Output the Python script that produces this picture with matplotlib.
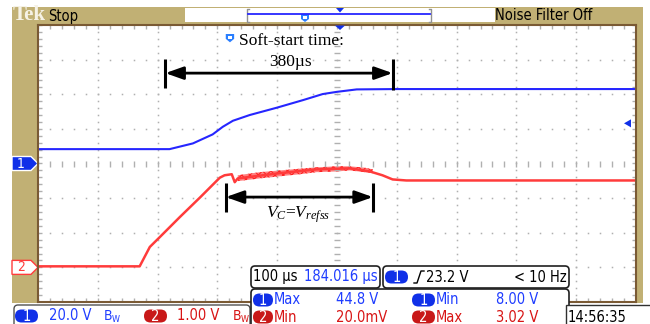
import numpy as np
import matplotlib.pyplot as plt
from matplotlib import font_manager
from matplotlib.font_manager import FontProperties
from matplotlib.patches import Rectangle, FancyBboxPatch, Polygon

# time in us (100 us/div, 10 div on screen)
ch1_t = [0, 220, 259, 292, 309, 326, 354, 399, 443, 476, 500, 533, 600, 1000]
ch1_v = [8.3, 8.3, 11.6, 16.8, 21.2, 24.7, 28.0, 32.2, 36.6, 40.1, 41.4, 42.8, 43.0, 43.0]

ch2_t = [0, 170, 187, 204, 237, 271, 304, 312, 324, 329, 334, 404, 466, 521, 555, 576, 593, 616, 1000]
ch2_v = [0.03, 0.03, 0.59, 0.88, 1.45, 2.02, 2.59, 2.66, 2.69, 2.46, 2.57, 2.72, 2.83, 2.86, 2.77, 2.66,
         2.54, 2.51, 2.51]

# ripple envelope on ch2 while Vc = Vrefss
ripple_t = [334, 371, 404, 438, 466, 500, 521, 546, 560]
ripple_hi = [2.66, 2.75, 2.80, 2.85, 2.89, 2.92, 2.92, 2.88, 2.83]
ripple_lo = [2.49, 2.57, 2.63, 2.69, 2.75, 2.77, 2.80, 2.75, 2.72]

ch1_scale, ch2_scale = 20.0, 1.0    # V/div
ch1_pos, ch2_pos = 0.0, -3.0        # div
trig_level = 23.2

ss_start, ss_len = 213, 380         # soft-start span, us
vc_start, vc_end = 314, 560         # Vc = Vrefss span, us

scale_labels = ["20.0 V", "1.00 V"]
meas_row1 = ["Max", "44.8 V", "Min", "8.00 V"]
meas_row2 = ["Min", "20.0mV", "Max", "3.02 V"]
timebase, trig_pos, trig_txt, trig_freq = "100 µs", "184.016 µs", "23.2 V", "< 10 Hz"
clock = "14:56:35"

TAN = "#c1b074"
BLUE = "#2626ff"
RED = "#ff3b3b"
TXT_BLUE = "#1f3dff"
TXT_RED = "#d81414"
serif = ["Liberation Serif", "DejaVu Serif"]
plt.rcParams["mathtext.fontset"] = "custom"
plt.rcParams["mathtext.it"] = "Liberation Serif:italic"
plt.rcParams["mathtext.rm"] = "Liberation Serif"

# scope readouts use a narrow sans; take one if installed
narrow_file = None
for f in font_manager.fontManager.ttflist:
    nm = f.name.lower()
    if f.weight in (400, "normal", "regular") and f.style == "normal" and "mono" not in nm \
            and "serif" not in nm and ("narrow" in nm or "condensed" in nm or f.stretch == "condensed"):
        narrow_file = f.fname
        break
if narrow_file:
    NFS = 10.5
else:
    NFS = 9.0


def nprop(size):
    if narrow_file:
        return FontProperties(fname=narrow_file, size=size)
    return FontProperties(family=["Liberation Sans", "DejaVu Sans"], size=size)


fig = plt.figure(figsize=(6.5, 3.24), dpi=100)
fig.patch.set_facecolor("white")

# background frame (pixel coords)
bg = fig.add_axes([0, 0, 1, 1])
bg.set_xlim(0, 650)
bg.set_ylim(324, 0)
bg.axis("off")
bg.add_patch(Rectangle((12, 7), 631, 296, fc=TAN, ec="none"))

# scope screen
ax = fig.add_axes([38 / 650, 1 - 302 / 324, 598 / 650, 277 / 324])
ax.set_xlim(0, 1000)
ax.set_ylim(-4, 4)
ax.set_xticks([])
ax.set_yticks([])
for s in ax.spines.values():
    s.set_color("#7a5a34")
    s.set_linewidth(1.5)

grid_c = "#b0b0b0"
yy = np.arange(-4, 4.001, 0.2)
xx = np.arange(0, 1000.1, 20)
for k in range(1, 10):
    if k != 5:
        ax.plot(np.full_like(yy, k * 100), yy, ls="none", marker="s", ms=1.1, color=grid_c, mew=0)
for j in range(-3, 4):
    if j != 0:
        ax.plot(xx, np.full_like(xx, j), ls="none", marker="s", ms=1.1, color=grid_c, mew=0)
ax.plot(np.full_like(yy, 500), yy, ls="none", marker="_", ms=5, mew=1, color=grid_c)
ax.plot(xx, np.zeros_like(xx), ls="none", marker="|", ms=4, mew=1, color=grid_c)
ax.plot(xx, np.full_like(xx, 4), ls="none", marker="|", ms=6, mew=1, color=grid_c)
ax.plot(xx, np.full_like(xx, -4), ls="none", marker="|", ms=6, mew=1, color=grid_c)
ax.plot(np.zeros_like(yy), yy, ls="none", marker="_", ms=6, mew=1, color=grid_c)
ax.plot(np.full_like(yy, 1000), yy, ls="none", marker="_", ms=6, mew=1, color=grid_c)

# traces
ax.plot(ch1_t, np.array(ch1_v) / ch1_scale + ch1_pos, color=BLUE, lw=1.5)
ax.plot(ch2_t, np.array(ch2_v) / ch2_scale + ch2_pos, color=RED, lw=1.8)
plt.rcParams["hatch.linewidth"] = 0.8
ax.fill_between(ripple_t, np.array(ripple_lo) / ch2_scale + ch2_pos,
                np.array(ripple_hi) / ch2_scale + ch2_pos, facecolor="#ff8080",
                edgecolor="#ff2020", hatch="xxxx", lw=0)

# channel ground markers and trigger level
ytr = ax.get_yaxis_transform()


def fx(px):
    return (px - 38) / 598


def ch_marker(ypos, label, fc, ec, tc):
    h = 7 / 34.6
    pts = [(fx(12), ypos - h), (fx(31), ypos - h), (fx(38), ypos), (fx(31), ypos + h), (fx(12), ypos + h)]
    ax.add_patch(Polygon(pts, closed=True, fc=fc, ec=ec, lw=1, transform=ytr, clip_on=False))
    ax.text(fx(21), ypos, label, transform=ytr, ha="center", va="center", color=tc,
            fontproperties=nprop(10), clip_on=False)


ch_marker(ch1_pos, "1", "#1030e8", "white", "white")
ch_marker(ch2_pos, "2", "white", RED, RED)

yt = trig_level / ch1_scale + ch1_pos
h = 4 / 34.6
ax.add_patch(Polygon([(fx(624), yt), (fx(631), yt + h), (fx(631), yt - h)], closed=True,
                     fc="#1030e8", ec="none", transform=ytr, clip_on=False))

# annotations
y_ss = 2.61
ax.annotate("", xy=(ss_start + ss_len, y_ss), xytext=(ss_start, y_ss),
            arrowprops=dict(arrowstyle="<|-|>,head_length=0.9,head_width=0.32", color="black",
                            lw=2, mutation_scale=12, shrinkA=0, shrinkB=0))
ax.plot([ss_start, ss_start], [2.18, 3.02], color="black", lw=2.2, solid_capstyle="butt")
ax.plot([ss_start + ss_len, ss_start + ss_len], [2.12, 3.02], color="black", lw=2.2, solid_capstyle="butt")
ax.text(ss_start + ss_len / 2 + 20, 3.54, "Soft-start time:", ha="center", va="center",
        family=serif, fontsize=12.5)
ax.text(ss_start + ss_len / 2 + 20, 2.93, f"{ss_len}µs", ha="center", va="center",
        family=serif, fontsize=12.5)
ax.add_patch(Polygon([(314, 3.74), (328, 3.74), (328, 3.6), (321, 3.5), (314, 3.6)], closed=True,
                     fc="#2a7fff", ec="none"))
ax.add_patch(Rectangle((318, 3.6), 6, 0.09, fc="white", ec="none"))

y_vc = -0.97
ax.annotate("", xy=(vc_end, y_vc), xytext=(vc_start, y_vc),
            arrowprops=dict(arrowstyle="<|-|>,head_length=0.9,head_width=0.32", color="black",
                            lw=2, mutation_scale=12, shrinkA=0, shrinkB=0))
ax.plot([vc_start, vc_start], [-0.57, -1.40], color="black", lw=2.2, solid_capstyle="butt")
ax.plot([vc_end, vc_end], [-0.57, -1.40], color="black", lw=2.2, solid_capstyle="butt")
ax.text((vc_start + vc_end) / 2 - 2, -1.47, "$V_C$=$V_{refss}$", ha="center", va="center",
        family=serif, fontsize=12.5)

# overlay readouts (pixel coords)
ov = fig.add_axes([0, 0, 1, 1])
ov.set_xlim(0, 650)
ov.set_ylim(324, 0)
ov.axis("off")
ov.patch.set_alpha(0)


def nt(x, y, s, color="black", ha="left", size=None):
    ov.text(x, y, s, color=color, ha=ha, va="center", fontproperties=nprop(size or NFS))


ov.text(13, 15, "Tek", family=serif, weight="bold", fontsize=15, color="#f6f2e6", va="center")
nt(48, 16, "Stop")
ov.add_patch(Rectangle((185, 8), 310, 14, fc="white", ec="none"))
ov.plot([249, 247, 247, 249], [8.5, 8.5, 21.5, 21.5], color="#909090", lw=1)
ov.plot([429, 431, 431, 429], [8.5, 8.5, 21.5, 21.5], color="#909090", lw=1)
ov.plot([248, 430], [14, 14], color=BLUE, lw=1.3)
ov.add_patch(Polygon([(336, 8), (344, 8), (340, 12.5)], closed=True, fc="#1030e8", ec="none"))
ov.add_patch(Polygon([(301, 14), (309, 14), (309, 19), (305, 22), (301, 19)], closed=True,
                     fc="#2a7fff", ec="none"))
ov.add_patch(Rectangle((303, 15.5), 4, 3, fc="white", ec="none"))
nt(495, 16, "Noise Filter Off")
ov.add_patch(Polygon([(335, 25.5), (345, 25.5), (340, 30)], closed=True, fc="#1030e8", ec="none"))


def badge(x0, x1, yc, fc, label):
    ov.add_patch(FancyBboxPatch((x0, yc - 6.5), x1 - x0, 13, boxstyle="round,pad=0,rounding_size=6.5",
                                fc=fc, ec="none"))
    ov.text((x0 + x1) / 2, yc + 0.5, label, ha="center", va="center", color="white",
            fontproperties=nprop(10.5))


def bw(x, yc, c):
    nt(x, yc, "B", color=c, size=10)
    nt(x + 8, yc + 3.5, "W", color=c, size=6.5)


# channel scale box
ov.add_patch(FancyBboxPatch((14, 305), 236, 24, boxstyle="round,pad=0,rounding_size=4",
                            fc="white", ec="#505050", lw=1))
yb = 316
badge(15, 38, yb, "#1030e8", "1")
nt(49, yb, scale_labels[0], color=TXT_BLUE)
bw(104, yb, TXT_BLUE)
badge(144, 167, yb, "#c81818", "2")
nt(177, yb, scale_labels[1], color=TXT_RED)
bw(233, yb, TXT_RED)

# timebase and trigger boxes
ov.add_patch(FancyBboxPatch((251, 266), 129, 22, boxstyle="round,pad=0,rounding_size=4",
                            fc="white", ec="#202020", lw=1.2))
nt(253, 277, timebase)
nt(378, 277, trig_pos, color=TXT_BLUE, ha="right")
ov.add_patch(FancyBboxPatch((383, 266), 186, 22, boxstyle="round,pad=0,rounding_size=4",
                            fc="white", ec="#202020", lw=1.2))
badge(385, 408, 277, "#1030e8", "1")
ov.plot([414, 417, 421, 424], [283, 283, 271, 271], color="black", lw=1)
nt(426, 277, trig_txt)
nt(567, 277, trig_freq, ha="right")

# measurements box
ov.add_patch(FancyBboxPatch((251, 289), 318, 40, boxstyle="round,pad=0,rounding_size=4",
                            fc="white", ec="#202020", lw=1.2))
for row, yc, fc, tc, lab in [(meas_row1, 300, "#1030e8", TXT_BLUE, "1"),
                             (meas_row2, 317, "#c81818", TXT_RED, "2")]:
    badge(253, 273, yc, fc, lab)
    nt(274, yc, row[0], color=tc)
    nt(336, yc, row[1], color=tc)
    badge(412, 435, yc, fc, lab)
    nt(436, yc, row[2], color=tc)
    nt(496, yc, row[3], color=tc)

# clock
ov.add_patch(Rectangle((566, 305), 90, 24, fc="white", ec="#303030", lw=1))
nt(568, 317, clock)

fig.savefig("out.png", dpi=100)
